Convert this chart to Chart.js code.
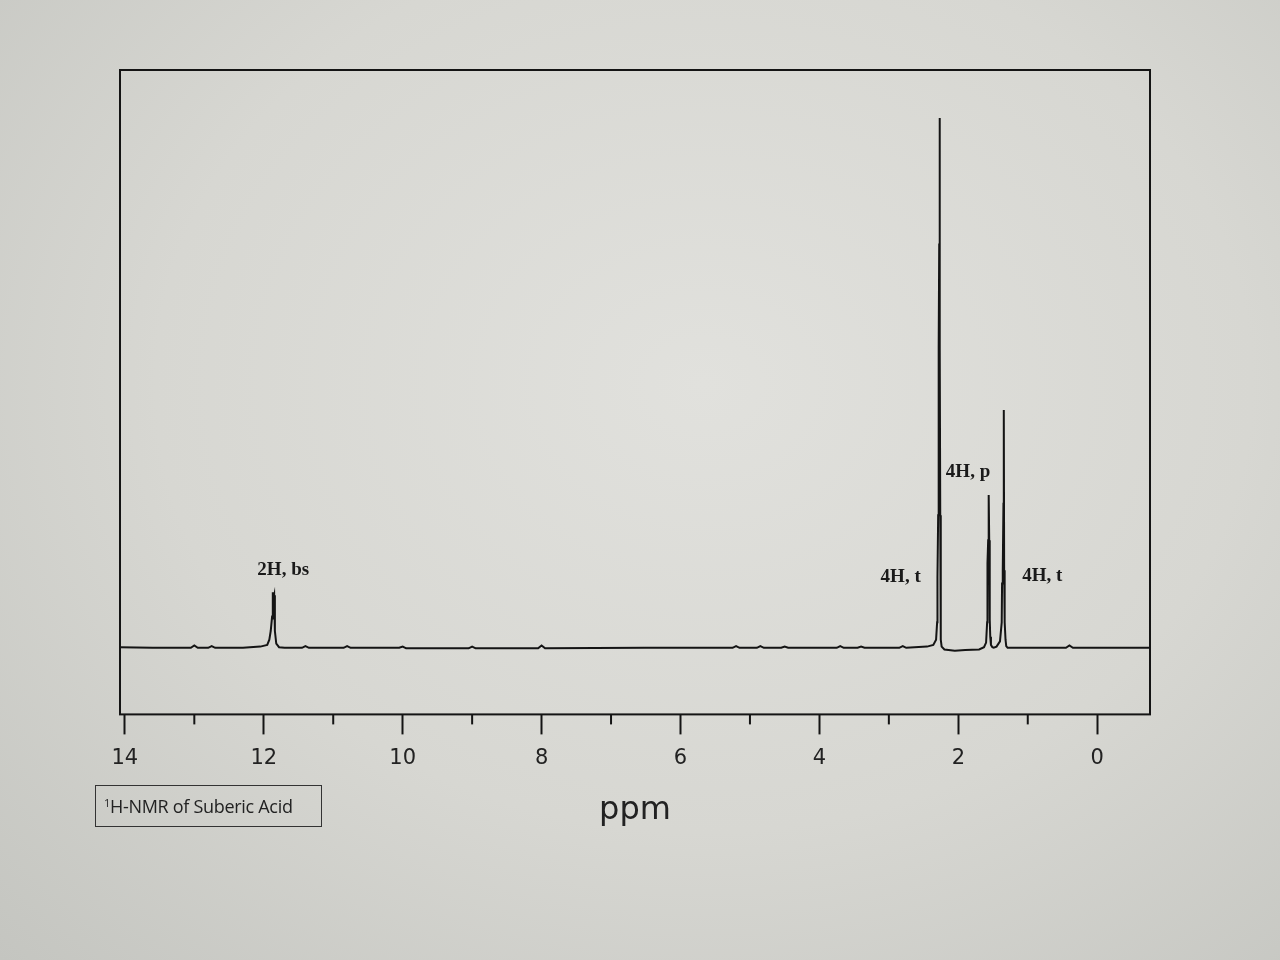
<!DOCTYPE html>
<html>
<head>
<meta charset="utf-8">
<script src="https://cdn.jsdelivr.net/npm/chart.js@4.4.1/dist/chart.umd.min.js"></script>
<style>
    html, body {
        margin: 0;
        padding: 0;
        width: 1280px;
        height: 960px;
        overflow: hidden;
        background: radial-gradient(ellipse at 55% 40%, #e1e1dd 0%, #d7d7d2 55%, #c4c5c0 100%);
    }
    #wrap {
        position: absolute;
        left: 0;
        top: 0;
        width: 1280px;
        height: 960px;
    }
    #note {
        position: absolute;
        left: 95px;
        top: 785px;
        width: 227px;
        height: 42px;
        border: 1.5px solid #333;
        font-family: "Open Sans", sans-serif;
        font-size: 18px;
        color: #222;
        line-height: 40px;
        padding-left: 8px;
        box-sizing: border-box;
        letter-spacing: -0.3px;
    }
    #note sup { font-size: 11px; vertical-align: 6px; line-height: 0; }
</style>
</head>
<body>
<div id="wrap"><canvas id="nmrChart" width="1280" height="960"></canvas></div>
<div id="note"><sup>1</sup>H-NMR of Suberic Acid</div>
<script>
// spectrum trace, ppm (descending) and intensity (baseline = 0, box top = 100)
const tracePpm = [
    14.07, 13.6, 13.05, 13.0, 12.95, 12.8, 12.75, 12.7, 12.3, 12.05,
    11.95, 11.92, 11.9, 11.88, 11.87, 11.865, 11.86, 11.855, 11.85, 11.84, 11.82, 11.78, 11.7,
    11.45, 11.4, 11.35, 10.85, 10.8, 10.75, 10.05, 10.0, 9.95, 9.05, 9.0, 8.95,
    8.05, 8.0, 7.95, 6.5, 5.25, 5.2, 5.15, 4.9, 4.85, 4.8, 4.55, 4.5, 4.45,
    3.75, 3.7, 3.65, 3.45, 3.4, 3.35, 2.85, 2.8, 2.75, 2.45,
    2.36, 2.32, 2.305, 2.30, 2.29, 2.285, 2.28, 2.275, 2.27, 2.265, 2.26, 2.255, 2.25, 2.24, 2.2,
    2.05, 1.9, 1.7,
    1.63, 1.6, 1.585, 1.58, 1.57, 1.565, 1.56, 1.555, 1.55, 1.545, 1.54, 1.53, 1.51, 1.49,
    1.45, 1.40, 1.375, 1.37, 1.36, 1.35, 1.345, 1.34, 1.335, 1.33, 1.32, 1.31, 1.29, 1.25,
    1.1, 0.9, 0.45, 0.4, 0.35, -0.2, -0.76
];
const traceInt = [
    0.2, 0.1, 0.1, 0.5, 0.1, 0.1, 0.4, 0.1, 0.1, 0.3,
    0.6, 1.5, 3.0, 5.5, 9.7, 7.0, 5.0, 8.8, 9.2, 3.0, 0.8, 0.2, 0.1,
    0.1, 0.4, 0.1, 0.1, 0.4, 0.1, 0.1, 0.3, 0.0, 0.0, 0.3, 0.0,
    0.0, 0.5, 0.0, 0.1, 0.1, 0.4, 0.1, 0.1, 0.4, 0.1, 0.1, 0.3, 0.1,
    0.1, 0.4, 0.1, 0.1, 0.3, 0.1, 0.1, 0.4, 0.1, 0.3,
    0.6, 1.5, 4.5, 12.3, 23.0, 40.0, 52.0, 70.0, 91.7, 52.0, 23.0, 8.0, 1.5, 0.3, -0.2,
    -0.4, -0.3, -0.2,
    0.2, 1.0, 4.5, 14.7, 18.7, 22.0, 26.5, 18.7, 14.7, 5.0, 2.0, 0.6, 0.2, 0.1,
    0.3, 1.2, 4.5, 11.2, 13.5, 25.0, 41.2, 13.5, 11.2, 4.5, 1.5, 0.4, 0.1, 0.1,
    0.1, 0.1, 0.1, 0.5, 0.1, 0.1, 0.1
];

// axis ticks
const majorTicks = [14, 12, 10, 8, 6, 4, 2, 0];
const minorTicks = [13, 11, 9, 7, 5, 3, 1];

// peak annotations
const noteText = ['2H, bs', '4H, t', '4H, p', '4H, t'];
const notePpm = [11.72, 2.83, 1.86, 0.79];
const noteInt = [13.5, 12.3, 30.4, 12.5];

const ink = '#141414';

const frameAndNotes = {
    id: 'frameAndNotes',
    afterDraw(chart) {
        const ctx = chart.ctx;
        const a = chart.chartArea;
        const xs = chart.scales.x;
        const ys = chart.scales.y;
        ctx.save();
        // plot box
        ctx.strokeStyle = ink;
        ctx.lineWidth = 2;
        ctx.strokeRect(a.left, a.top, a.right - a.left, a.bottom - a.top);
        // minor ticks
        for (let i = 0; i < minorTicks.length; i++) {
            let px = xs.getPixelForValue(minorTicks[i]);
            ctx.beginPath();
            ctx.moveTo(px, a.bottom);
            ctx.lineTo(px, a.bottom + 10);
            ctx.stroke();
        }
        // annotations
        ctx.fillStyle = '#1a1a1a';
        ctx.font = 'bold 19px "Liberation Serif", "Times New Roman", serif';
        ctx.textAlign = 'center';
        ctx.textBaseline = 'middle';
        for (let i = 0; i < noteText.length; i++) {
            ctx.fillText(noteText[i], xs.getPixelForValue(notePpm[i]), ys.getPixelForValue(noteInt[i]));
        }
        ctx.restore();
    }
};

const ctx1 = document.getElementById('nmrChart').getContext('2d');
const nmrChart = new Chart(ctx1, {
    type: 'scatter',
    data: {
        datasets: [{
            label: 'spectrum',
            data: tracePpm.map((p, i) => ({ x: p, y: traceInt[i] })),
            showLine: true,
            borderColor: ink,
            borderWidth: 2,
            pointRadius: 0,
            tension: 0
        }]
    },
    options: {
        responsive: false,
        animation: false,
        layout: {
            padding: { left: 120, right: 130, top: 70, bottom: 130 }
        },
        plugins: {
            legend: { display: false },
            tooltip: { enabled: false }
        },
        scales: {
            x: {
                type: 'linear',
                reverse: true,
                min: -0.76,
                max: 14.07,
                afterBuildTicks: (s) => { s.ticks = majorTicks.map(v => ({ value: v })); },
                border: { display: false },
                grid: {
                    drawOnChartArea: false,
                    drawTicks: true,
                    tickLength: 20,
                    tickWidth: 2,
                    tickColor: ink
                },
                ticks: {
                    padding: 12,
                    color: '#222',
                    font: { family: '"DejaVu Sans", sans-serif', size: 21 },
                    maxRotation: 0,
                    autoSkip: false
                },
                title: {
                    display: true,
                    text: 'ppm',
                    color: '#222',
                    font: { family: '"DejaVu Sans", sans-serif', size: 32 },
                    padding: { top: 8, bottom: 0 }
                }
            },
            y: {
                display: false,
                min: -11.42,
                max: 100
            }
        }
    },
    plugins: [frameAndNotes]
});
</script>
</body>
</html>
